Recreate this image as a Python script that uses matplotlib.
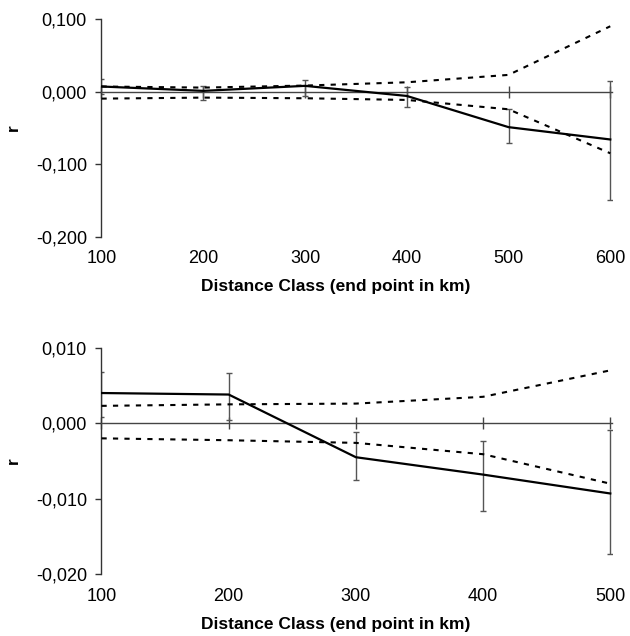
import matplotlib
matplotlib.use('Agg')
import matplotlib.pyplot as plt
import numpy as np

plt.rcParams['font.family'] = ['Liberation Sans', 'DejaVu Sans']

# ---- Top panel data ----
dist_top = [100, 200, 300, 400, 500, 600]
r_top = [0.007, 0.001, 0.0079, -0.006, -0.049, -0.066]
ci_up_top = [0.007, 0.0055, 0.0083, 0.0128, 0.023, 0.090]
ci_lo_top = [-0.0097, -0.0083, -0.0092, -0.0115, -0.0244, -0.085]
err_lo_top = [-0.0037, -0.012, -0.0065, -0.021, -0.0708, -0.150]
err_hi_top = [0.017, 0.0083, 0.0156, 0.006, -0.0244, 0.0152]
yticks_top = [0.1, 0.0, -0.1, -0.2]

# ---- Bottom panel data ----
dist_bot = [100, 200, 300, 400, 500]
r_bot = [0.0040, 0.0038, -0.0045, -0.0068, -0.0093]
ci_up_bot = [0.0023, 0.0025, 0.0026, 0.0035, 0.0070]
ci_lo_bot = [-0.0020, -0.00225, -0.0026, -0.0041, -0.0080]
err_lo_bot = [0.0008, 0.0004, -0.0075, -0.0116, -0.0173]
err_hi_bot = [0.0068, 0.0067, -0.0012, -0.0023, -0.0009]
yticks_bot = [0.01, 0.0, -0.01, -0.02]

xlabel = 'Distance Class (end point in km)'
ylabel = 'r'

fig = plt.figure(figsize=(6.3, 6.36), dpi=100)
ax1 = fig.add_axes([0.1611, 0.6278, 0.810, 0.3423])
ax2 = fig.add_axes([0.1611, 0.0970, 0.810, 0.3563])


def fmt(v):
    return f"{v:.3f}".replace('.', ',').replace('-0,000', '0,000')


def draw(ax, x, r, up, lo, elo, ehi, yticks):
    x = np.array(x, dtype=float)
    r = np.array(r)
    yerr = [r - np.array(elo), np.array(ehi) - r]
    ax.errorbar(x, r, yerr=yerr, fmt='none', ecolor='#555555', elinewidth=1,
                capsize=2.5, capthick=1, zorder=2)
    ax.plot(x, up, color='black', lw=1.5, dashes=(2.5, 3), zorder=3)
    ax.plot(x, lo, color='black', lw=1.5, dashes=(2.5, 3), zorder=3)
    ax.plot(x, r, color='black', lw=1.6, zorder=4)
    span = x[-1] - x[0]
    ax.set_xlim(x[0], x[-1] + span * 0.003)
    ax.set_ylim(min(yticks), max(yticks))
    for s in ['top', 'right']:
        ax.spines[s].set_visible(False)
    ax.spines['left'].set_color('#333333')
    ax.spines['left'].set_linewidth(1)
    ax.spines['bottom'].set_position(('data', 0))
    ax.spines['bottom'].set_color('#444444')
    ax.spines['bottom'].set_linewidth(1)
    ax.set_xticks(x)
    ax.tick_params(axis='x', direction='inout', length=8.5, width=1,
                   color='#444444', labelbottom=False)
    ax.set_yticks(yticks)
    ax.set_yticklabels([fmt(v) for v in yticks])
    ax.tick_params(axis='y', direction='out', length=4.5, width=1,
                   color='#333333', pad=6, labelsize=13)
    sec = ax.secondary_xaxis('bottom')
    sec.set_xticks(x)
    sec.set_xticklabels([str(int(v)) for v in x])
    sec.spines['bottom'].set_visible(False)
    sec.tick_params(length=0, pad=9.5, labelsize=13)
    sec.set_xlabel(xlabel, fontweight='bold', fontsize=12.5, labelpad=9)
    sec.xaxis.label.set_x(0.459)
    ax.set_ylabel(ylabel, fontweight='bold', fontsize=12.5)
    ax.yaxis.set_label_coords(-0.158, 0.5)


draw(ax1, dist_top, r_top, ci_up_top, ci_lo_top, err_lo_top, err_hi_top, yticks_top)
draw(ax2, dist_bot, r_bot, ci_up_bot, ci_lo_bot, err_lo_bot, err_hi_bot, yticks_bot)

fig.savefig('out.png', dpi=100)
